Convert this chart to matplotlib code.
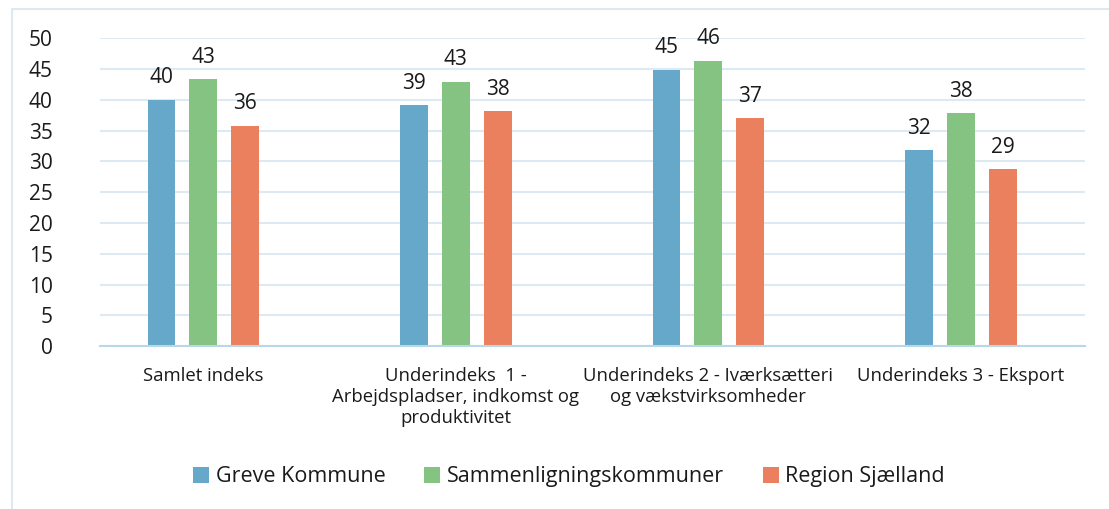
### Importing useful packages
import numpy as np
import matplotlib
matplotlib.use('Agg')
import matplotlib.pyplot as plt
from matplotlib.patches import Rectangle

### Data
categories = ['Samlet indeks',
              'Underindeks  1 -\nArbejdspladser, indkomst og\nproduktivitet',
              'Underindeks 2 - Iværksætteri\nog vækstvirksomheder',
              'Underindeks 3 - Eksport']
series_names = ['Greve Kommune', 'Sammenligningskommuner', 'Region Sjælland']
greve = [40.0, 39.1, 44.9, 31.8]
sammen = [43.3, 42.9, 46.3, 37.8]
region = [35.8, 38.1, 37.0, 28.7]
yticks = [0, 5, 10, 15, 20, 25, 30, 35, 40, 45, 50]

colors = ['#65a8c9', '#85c383', '#eb805f']

plt.rcParams['font.family'] = ['Open Sans', 'DejaVu Sans']

fig = plt.figure(figsize=(11.09, 5.09), dpi=100)
ax = fig.add_axes([0.090, 0.320, 0.888, 0.605])

## Outer frame of the chart
fig.patches.append(Rectangle((12 / 1109, -0.05), 1.2, 1 - 9 / 509 + 0.05,
                             transform=fig.transFigure, fill=False,
                             edgecolor='#dde8f1', linewidth=1.5))

x = np.arange(len(categories))
width = 0.11
offset = 0.166

for i, (vals, name) in enumerate(zip([greve, sammen, region], series_names)):
    pos = x + (i - 1) * offset
    bars = ax.bar(pos, vals, width, color=colors[i], label=name, zorder=3)
    for b, v in zip(bars, vals):
        ax.text(b.get_x() + b.get_width() / 2, v + 1.9, str(int(round(v))),
                ha='center', va='bottom', fontsize=15, color='#1a1a1a')

ax.set_ylim(0, 50)
ax.set_xlim(-0.41, 3.49)
ax.set_yticks(yticks)
ax.tick_params(axis='y', length=0, labelsize=15, pad=34, colors='#1a1a1a')
ax.set_xticks(x)
ax.set_xticklabels(categories, fontsize=13.3, color='#1a1a1a', linespacing=1.2)
ax.tick_params(axis='x', length=0, pad=15)
ax.grid(axis='y', color='#dde9f3', linewidth=1.5, zorder=0)
for side in ['top', 'right', 'left']:
    ax.spines[side].set_visible(False)
ax.spines['bottom'].set_color('#b8d8e8')
ax.spines['bottom'].set_linewidth(1.5)
ax.spines['bottom'].set_zorder(4)

## Legend below
fig.legend(loc='center', bbox_to_anchor=(0.513, 0.063), ncol=3, frameon=False,
           fontsize=15.5, handlelength=0.75, handleheight=0.75, handletextpad=0.3,
           columnspacing=1.8, labelcolor='#1a1a1a')

fig.savefig('out.png', dpi=100)
